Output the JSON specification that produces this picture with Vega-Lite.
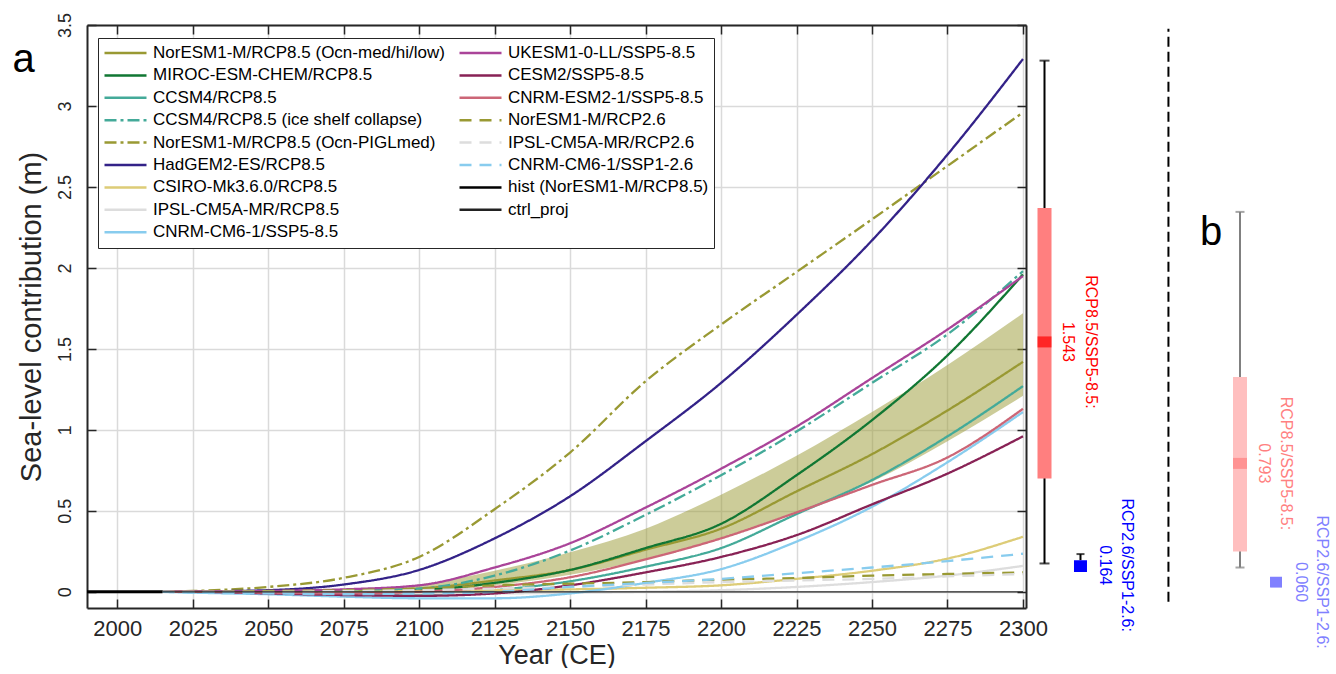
{
  "$schema": "https://vega.github.io/schema/vega-lite/v6.json",
  "background": "white",
  "padding": {"left": 12, "top": 12, "right": 0, "bottom": 0},
  "spacing": 0,
  "bounds": "flush",
  "config": {"font": "Liberation Sans", "view": {"stroke": null}},
  "datasets": {
    "series": [
      {"model": "NorESM1-M/RCP8.5 (Ocn-med/hi/low)", "year": 2015, "v": 0},
      {"model": "NorESM1-M/RCP8.5 (Ocn-med/hi/low)", "year": 2025, "v": 0},
      {"model": "NorESM1-M/RCP8.5 (Ocn-med/hi/low)", "year": 2050, "v": 0},
      {"model": "NorESM1-M/RCP8.5 (Ocn-med/hi/low)", "year": 2075, "v": 0.005},
      {"model": "NorESM1-M/RCP8.5 (Ocn-med/hi/low)", "year": 2100, "v": 0.02},
      {"model": "NorESM1-M/RCP8.5 (Ocn-med/hi/low)", "year": 2125, "v": 0.07},
      {"model": "NorESM1-M/RCP8.5 (Ocn-med/hi/low)", "year": 2150, "v": 0.135},
      {"model": "NorESM1-M/RCP8.5 (Ocn-med/hi/low)", "year": 2175, "v": 0.26},
      {"model": "NorESM1-M/RCP8.5 (Ocn-med/hi/low)", "year": 2200, "v": 0.39},
      {"model": "NorESM1-M/RCP8.5 (Ocn-med/hi/low)", "year": 2225, "v": 0.62},
      {"model": "NorESM1-M/RCP8.5 (Ocn-med/hi/low)", "year": 2250, "v": 0.85},
      {"model": "NorESM1-M/RCP8.5 (Ocn-med/hi/low)", "year": 2275, "v": 1.12},
      {"model": "NorESM1-M/RCP8.5 (Ocn-med/hi/low)", "year": 2300, "v": 1.42},
      {"model": "MIROC-ESM-CHEM/RCP8.5", "year": 2015, "v": 0},
      {"model": "MIROC-ESM-CHEM/RCP8.5", "year": 2025, "v": 0},
      {"model": "MIROC-ESM-CHEM/RCP8.5", "year": 2050, "v": 0},
      {"model": "MIROC-ESM-CHEM/RCP8.5", "year": 2075, "v": 0},
      {"model": "MIROC-ESM-CHEM/RCP8.5", "year": 2100, "v": 0.01},
      {"model": "MIROC-ESM-CHEM/RCP8.5", "year": 2125, "v": 0.055},
      {"model": "MIROC-ESM-CHEM/RCP8.5", "year": 2150, "v": 0.135},
      {"model": "MIROC-ESM-CHEM/RCP8.5", "year": 2175, "v": 0.27},
      {"model": "MIROC-ESM-CHEM/RCP8.5", "year": 2200, "v": 0.42},
      {"model": "MIROC-ESM-CHEM/RCP8.5", "year": 2225, "v": 0.72},
      {"model": "MIROC-ESM-CHEM/RCP8.5", "year": 2250, "v": 1.06},
      {"model": "MIROC-ESM-CHEM/RCP8.5", "year": 2275, "v": 1.46},
      {"model": "MIROC-ESM-CHEM/RCP8.5", "year": 2300, "v": 1.96},
      {"model": "CCSM4/RCP8.5", "year": 2015, "v": 0},
      {"model": "CCSM4/RCP8.5", "year": 2025, "v": 0},
      {"model": "CCSM4/RCP8.5", "year": 2050, "v": -0.005},
      {"model": "CCSM4/RCP8.5", "year": 2075, "v": -0.01},
      {"model": "CCSM4/RCP8.5", "year": 2100, "v": -0.015},
      {"model": "CCSM4/RCP8.5", "year": 2125, "v": 0.01},
      {"model": "CCSM4/RCP8.5", "year": 2150, "v": 0.065},
      {"model": "CCSM4/RCP8.5", "year": 2175, "v": 0.155},
      {"model": "CCSM4/RCP8.5", "year": 2200, "v": 0.27},
      {"model": "CCSM4/RCP8.5", "year": 2225, "v": 0.48},
      {"model": "CCSM4/RCP8.5", "year": 2250, "v": 0.69},
      {"model": "CCSM4/RCP8.5", "year": 2275, "v": 0.96},
      {"model": "CCSM4/RCP8.5", "year": 2300, "v": 1.27},
      {"model": "CCSM4/RCP8.5 (ice shelf collapse)", "year": 2015, "v": 0},
      {"model": "CCSM4/RCP8.5 (ice shelf collapse)", "year": 2025, "v": 0},
      {"model": "CCSM4/RCP8.5 (ice shelf collapse)", "year": 2050, "v": 0},
      {"model": "CCSM4/RCP8.5 (ice shelf collapse)", "year": 2075, "v": 0.005},
      {"model": "CCSM4/RCP8.5 (ice shelf collapse)", "year": 2100, "v": 0.02},
      {"model": "CCSM4/RCP8.5 (ice shelf collapse)", "year": 2125, "v": 0.1},
      {"model": "CCSM4/RCP8.5 (ice shelf collapse)", "year": 2150, "v": 0.255},
      {"model": "CCSM4/RCP8.5 (ice shelf collapse)", "year": 2175, "v": 0.475},
      {"model": "CCSM4/RCP8.5 (ice shelf collapse)", "year": 2200, "v": 0.72},
      {"model": "CCSM4/RCP8.5 (ice shelf collapse)", "year": 2225, "v": 0.99},
      {"model": "CCSM4/RCP8.5 (ice shelf collapse)", "year": 2250, "v": 1.29},
      {"model": "CCSM4/RCP8.5 (ice shelf collapse)", "year": 2275, "v": 1.59},
      {"model": "CCSM4/RCP8.5 (ice shelf collapse)", "year": 2300, "v": 1.98},
      {"model": "NorESM1-M/RCP8.5 (Ocn-PIGLmed)", "year": 2015, "v": 0},
      {"model": "NorESM1-M/RCP8.5 (Ocn-PIGLmed)", "year": 2025, "v": 0.005},
      {"model": "NorESM1-M/RCP8.5 (Ocn-PIGLmed)", "year": 2050, "v": 0.03},
      {"model": "NorESM1-M/RCP8.5 (Ocn-PIGLmed)", "year": 2075, "v": 0.086},
      {"model": "NorESM1-M/RCP8.5 (Ocn-PIGLmed)", "year": 2100, "v": 0.215},
      {"model": "NorESM1-M/RCP8.5 (Ocn-PIGLmed)", "year": 2125, "v": 0.51},
      {"model": "NorESM1-M/RCP8.5 (Ocn-PIGLmed)", "year": 2150, "v": 0.86},
      {"model": "NorESM1-M/RCP8.5 (Ocn-PIGLmed)", "year": 2175, "v": 1.3},
      {"model": "NorESM1-M/RCP8.5 (Ocn-PIGLmed)", "year": 2200, "v": 1.65},
      {"model": "NorESM1-M/RCP8.5 (Ocn-PIGLmed)", "year": 2225, "v": 1.975},
      {"model": "NorESM1-M/RCP8.5 (Ocn-PIGLmed)", "year": 2250, "v": 2.3},
      {"model": "NorESM1-M/RCP8.5 (Ocn-PIGLmed)", "year": 2275, "v": 2.63},
      {"model": "NorESM1-M/RCP8.5 (Ocn-PIGLmed)", "year": 2300, "v": 2.96},
      {"model": "HadGEM2-ES/RCP8.5", "year": 2015, "v": 0},
      {"model": "HadGEM2-ES/RCP8.5", "year": 2025, "v": 0.002},
      {"model": "HadGEM2-ES/RCP8.5", "year": 2050, "v": 0.01},
      {"model": "HadGEM2-ES/RCP8.5", "year": 2075, "v": 0.045},
      {"model": "HadGEM2-ES/RCP8.5", "year": 2100, "v": 0.135},
      {"model": "HadGEM2-ES/RCP8.5", "year": 2125, "v": 0.33},
      {"model": "HadGEM2-ES/RCP8.5", "year": 2150, "v": 0.59},
      {"model": "HadGEM2-ES/RCP8.5", "year": 2175, "v": 0.93},
      {"model": "HadGEM2-ES/RCP8.5", "year": 2200, "v": 1.29},
      {"model": "HadGEM2-ES/RCP8.5", "year": 2225, "v": 1.71},
      {"model": "HadGEM2-ES/RCP8.5", "year": 2250, "v": 2.17},
      {"model": "HadGEM2-ES/RCP8.5", "year": 2275, "v": 2.7},
      {"model": "HadGEM2-ES/RCP8.5", "year": 2300, "v": 3.29},
      {"model": "CSIRO-Mk3.6.0/RCP8.5", "year": 2015, "v": 0},
      {"model": "CSIRO-Mk3.6.0/RCP8.5", "year": 2025, "v": 0},
      {"model": "CSIRO-Mk3.6.0/RCP8.5", "year": 2050, "v": 0},
      {"model": "CSIRO-Mk3.6.0/RCP8.5", "year": 2075, "v": 0},
      {"model": "CSIRO-Mk3.6.0/RCP8.5", "year": 2100, "v": 0.005},
      {"model": "CSIRO-Mk3.6.0/RCP8.5", "year": 2125, "v": 0.01},
      {"model": "CSIRO-Mk3.6.0/RCP8.5", "year": 2150, "v": 0.015},
      {"model": "CSIRO-Mk3.6.0/RCP8.5", "year": 2175, "v": 0.025},
      {"model": "CSIRO-Mk3.6.0/RCP8.5", "year": 2200, "v": 0.04},
      {"model": "CSIRO-Mk3.6.0/RCP8.5", "year": 2225, "v": 0.08},
      {"model": "CSIRO-Mk3.6.0/RCP8.5", "year": 2250, "v": 0.13},
      {"model": "CSIRO-Mk3.6.0/RCP8.5", "year": 2275, "v": 0.205},
      {"model": "CSIRO-Mk3.6.0/RCP8.5", "year": 2300, "v": 0.34},
      {"model": "IPSL-CM5A-MR/RCP8.5", "year": 2015, "v": 0},
      {"model": "IPSL-CM5A-MR/RCP8.5", "year": 2025, "v": 0},
      {"model": "IPSL-CM5A-MR/RCP8.5", "year": 2050, "v": -0.005},
      {"model": "IPSL-CM5A-MR/RCP8.5", "year": 2075, "v": -0.01},
      {"model": "IPSL-CM5A-MR/RCP8.5", "year": 2100, "v": -0.01},
      {"model": "IPSL-CM5A-MR/RCP8.5", "year": 2125, "v": -0.01},
      {"model": "IPSL-CM5A-MR/RCP8.5", "year": 2150, "v": -0.005},
      {"model": "IPSL-CM5A-MR/RCP8.5", "year": 2175, "v": 0},
      {"model": "IPSL-CM5A-MR/RCP8.5", "year": 2200, "v": 0.01},
      {"model": "IPSL-CM5A-MR/RCP8.5", "year": 2225, "v": 0.03},
      {"model": "IPSL-CM5A-MR/RCP8.5", "year": 2250, "v": 0.06},
      {"model": "IPSL-CM5A-MR/RCP8.5", "year": 2275, "v": 0.1},
      {"model": "IPSL-CM5A-MR/RCP8.5", "year": 2300, "v": 0.16},
      {"model": "CNRM-CM6-1/SSP5-8.5", "year": 2015, "v": 0},
      {"model": "CNRM-CM6-1/SSP5-8.5", "year": 2025, "v": -0.005},
      {"model": "CNRM-CM6-1/SSP5-8.5", "year": 2050, "v": -0.015},
      {"model": "CNRM-CM6-1/SSP5-8.5", "year": 2075, "v": -0.03},
      {"model": "CNRM-CM6-1/SSP5-8.5", "year": 2100, "v": -0.04},
      {"model": "CNRM-CM6-1/SSP5-8.5", "year": 2125, "v": -0.04},
      {"model": "CNRM-CM6-1/SSP5-8.5", "year": 2150, "v": -0.01},
      {"model": "CNRM-CM6-1/SSP5-8.5", "year": 2175, "v": 0.055},
      {"model": "CNRM-CM6-1/SSP5-8.5", "year": 2200, "v": 0.14},
      {"model": "CNRM-CM6-1/SSP5-8.5", "year": 2225, "v": 0.31},
      {"model": "CNRM-CM6-1/SSP5-8.5", "year": 2250, "v": 0.525},
      {"model": "CNRM-CM6-1/SSP5-8.5", "year": 2275, "v": 0.8},
      {"model": "CNRM-CM6-1/SSP5-8.5", "year": 2300, "v": 1.11},
      {"model": "UKESM1-0-LL/SSP5-8.5", "year": 2015, "v": 0},
      {"model": "UKESM1-0-LL/SSP5-8.5", "year": 2025, "v": 0},
      {"model": "UKESM1-0-LL/SSP5-8.5", "year": 2050, "v": 0.005},
      {"model": "UKESM1-0-LL/SSP5-8.5", "year": 2075, "v": 0.015},
      {"model": "UKESM1-0-LL/SSP5-8.5", "year": 2100, "v": 0.04},
      {"model": "UKESM1-0-LL/SSP5-8.5", "year": 2125, "v": 0.15},
      {"model": "UKESM1-0-LL/SSP5-8.5", "year": 2150, "v": 0.3},
      {"model": "UKESM1-0-LL/SSP5-8.5", "year": 2175, "v": 0.52},
      {"model": "UKESM1-0-LL/SSP5-8.5", "year": 2200, "v": 0.76},
      {"model": "UKESM1-0-LL/SSP5-8.5", "year": 2225, "v": 1.02},
      {"model": "UKESM1-0-LL/SSP5-8.5", "year": 2250, "v": 1.32},
      {"model": "UKESM1-0-LL/SSP5-8.5", "year": 2275, "v": 1.62},
      {"model": "UKESM1-0-LL/SSP5-8.5", "year": 2300, "v": 1.95},
      {"model": "CESM2/SSP5-8.5", "year": 2015, "v": 0},
      {"model": "CESM2/SSP5-8.5", "year": 2025, "v": 0},
      {"model": "CESM2/SSP5-8.5", "year": 2050, "v": -0.01},
      {"model": "CESM2/SSP5-8.5", "year": 2075, "v": -0.02},
      {"model": "CESM2/SSP5-8.5", "year": 2100, "v": -0.025},
      {"model": "CESM2/SSP5-8.5", "year": 2125, "v": -0.01},
      {"model": "CESM2/SSP5-8.5", "year": 2150, "v": 0.04},
      {"model": "CESM2/SSP5-8.5", "year": 2175, "v": 0.12},
      {"model": "CESM2/SSP5-8.5", "year": 2200, "v": 0.215},
      {"model": "CESM2/SSP5-8.5", "year": 2225, "v": 0.35},
      {"model": "CESM2/SSP5-8.5", "year": 2250, "v": 0.54},
      {"model": "CESM2/SSP5-8.5", "year": 2275, "v": 0.73},
      {"model": "CESM2/SSP5-8.5", "year": 2300, "v": 0.96},
      {"model": "CNRM-ESM2-1/SSP5-8.5", "year": 2015, "v": 0},
      {"model": "CNRM-ESM2-1/SSP5-8.5", "year": 2025, "v": 0},
      {"model": "CNRM-ESM2-1/SSP5-8.5", "year": 2050, "v": -0.005},
      {"model": "CNRM-ESM2-1/SSP5-8.5", "year": 2075, "v": -0.01},
      {"model": "CNRM-ESM2-1/SSP5-8.5", "year": 2100, "v": 0},
      {"model": "CNRM-ESM2-1/SSP5-8.5", "year": 2125, "v": 0.03},
      {"model": "CNRM-ESM2-1/SSP5-8.5", "year": 2150, "v": 0.09},
      {"model": "CNRM-ESM2-1/SSP5-8.5", "year": 2175, "v": 0.2},
      {"model": "CNRM-ESM2-1/SSP5-8.5", "year": 2200, "v": 0.33},
      {"model": "CNRM-ESM2-1/SSP5-8.5", "year": 2225, "v": 0.49},
      {"model": "CNRM-ESM2-1/SSP5-8.5", "year": 2250, "v": 0.66},
      {"model": "CNRM-ESM2-1/SSP5-8.5", "year": 2275, "v": 0.83},
      {"model": "CNRM-ESM2-1/SSP5-8.5", "year": 2300, "v": 1.13},
      {"model": "NorESM1-M/RCP2.6", "year": 2015, "v": 0},
      {"model": "NorESM1-M/RCP2.6", "year": 2025, "v": 0},
      {"model": "NorESM1-M/RCP2.6", "year": 2050, "v": 0.005},
      {"model": "NorESM1-M/RCP2.6", "year": 2075, "v": 0.01},
      {"model": "NorESM1-M/RCP2.6", "year": 2100, "v": 0.02},
      {"model": "NorESM1-M/RCP2.6", "year": 2125, "v": 0.04},
      {"model": "NorESM1-M/RCP2.6", "year": 2150, "v": 0.05},
      {"model": "NorESM1-M/RCP2.6", "year": 2175, "v": 0.06},
      {"model": "NorESM1-M/RCP2.6", "year": 2200, "v": 0.075},
      {"model": "NorESM1-M/RCP2.6", "year": 2225, "v": 0.085},
      {"model": "NorESM1-M/RCP2.6", "year": 2250, "v": 0.1},
      {"model": "NorESM1-M/RCP2.6", "year": 2275, "v": 0.11},
      {"model": "NorESM1-M/RCP2.6", "year": 2300, "v": 0.12},
      {"model": "IPSL-CM5A-MR/RCP2.6", "year": 2015, "v": 0},
      {"model": "IPSL-CM5A-MR/RCP2.6", "year": 2025, "v": 0},
      {"model": "IPSL-CM5A-MR/RCP2.6", "year": 2050, "v": 0},
      {"model": "IPSL-CM5A-MR/RCP2.6", "year": 2075, "v": 0.005},
      {"model": "IPSL-CM5A-MR/RCP2.6", "year": 2100, "v": 0.01},
      {"model": "IPSL-CM5A-MR/RCP2.6", "year": 2125, "v": 0.02},
      {"model": "IPSL-CM5A-MR/RCP2.6", "year": 2150, "v": 0.03},
      {"model": "IPSL-CM5A-MR/RCP2.6", "year": 2175, "v": 0.045},
      {"model": "IPSL-CM5A-MR/RCP2.6", "year": 2200, "v": 0.06},
      {"model": "IPSL-CM5A-MR/RCP2.6", "year": 2225, "v": 0.07},
      {"model": "IPSL-CM5A-MR/RCP2.6", "year": 2250, "v": 0.08},
      {"model": "IPSL-CM5A-MR/RCP2.6", "year": 2275, "v": 0.095},
      {"model": "IPSL-CM5A-MR/RCP2.6", "year": 2300, "v": 0.11},
      {"model": "CNRM-CM6-1/SSP1-2.6", "year": 2015, "v": 0},
      {"model": "CNRM-CM6-1/SSP1-2.6", "year": 2025, "v": -0.005},
      {"model": "CNRM-CM6-1/SSP1-2.6", "year": 2050, "v": -0.01},
      {"model": "CNRM-CM6-1/SSP1-2.6", "year": 2075, "v": -0.015},
      {"model": "CNRM-CM6-1/SSP1-2.6", "year": 2100, "v": -0.01},
      {"model": "CNRM-CM6-1/SSP1-2.6", "year": 2125, "v": 0},
      {"model": "CNRM-CM6-1/SSP1-2.6", "year": 2150, "v": 0.03},
      {"model": "CNRM-CM6-1/SSP1-2.6", "year": 2175, "v": 0.055},
      {"model": "CNRM-CM6-1/SSP1-2.6", "year": 2200, "v": 0.08},
      {"model": "CNRM-CM6-1/SSP1-2.6", "year": 2225, "v": 0.115},
      {"model": "CNRM-CM6-1/SSP1-2.6", "year": 2250, "v": 0.15},
      {"model": "CNRM-CM6-1/SSP1-2.6", "year": 2275, "v": 0.19},
      {"model": "CNRM-CM6-1/SSP1-2.6", "year": 2300, "v": 0.235},
      {"model": "hist (NorESM1-M/RCP8.5)", "year": 1990, "v": 0},
      {"model": "hist (NorESM1-M/RCP8.5)", "year": 2015, "v": 0},
      {"model": "ctrl_proj", "year": 2015, "v": 0},
      {"model": "ctrl_proj", "year": 2300, "v": 0}
    ],
    "band": [
      {"year": 2015, "lo": 0, "hi": 0},
      {"year": 2025, "lo": 0, "hi": 0},
      {"year": 2050, "lo": 0, "hi": 0.003},
      {"year": 2075, "lo": 0, "hi": 0.012},
      {"year": 2100, "lo": 0.008, "hi": 0.045},
      {"year": 2125, "lo": 0.04, "hi": 0.13},
      {"year": 2150, "lo": 0.105, "hi": 0.245},
      {"year": 2175, "lo": 0.2, "hi": 0.39},
      {"year": 2200, "lo": 0.33, "hi": 0.6},
      {"year": 2225, "lo": 0.49, "hi": 0.84},
      {"year": 2250, "lo": 0.68, "hi": 1.11},
      {"year": 2275, "lo": 0.93, "hi": 1.4},
      {"year": 2300, "lo": 1.21, "hi": 1.72}
    ],
    "boxes": [
      {"key": "a85", "scen": "RCP8.5/SSP5-8.5", "lo": 0.175, "q1": 0.7, "med": 1.543, "q3": 2.37, "hi": 3.28},
      {"key": "a26", "scen": "RCP2.6/SSP1-2.6", "lo": 0.123, "q1": 0.123, "med": 0.164, "q3": 0.195, "hi": 0.233},
      {"key": "b85", "scen": "RCP8.5/SSP5-8.5", "lo": 0.15, "q1": 0.249, "med": 0.793, "q3": 1.327, "hi": 2.346},
      {"key": "b26", "scen": "RCP2.6/SSP1-2.6", "lo": 0.026, "q1": 0.026, "med": 0.06, "q3": 0.093, "hi": 0.093}
    ]
  },
  "hconcat": [
    {
      "width": 939,
      "height": 583,
      "layer": [
        {
          "data": {"name": "band"},
          "mark": {"type": "area", "color": "#999933", "opacity": 0.5, "interpolate": "monotone"},
          "encoding": {
            "x": {"field": "year", "type": "quantitative", "scale": {"domain": [1990, 2301], "nice": false, "zero": false},
              "axis": {"orient": "top", "values": [2000, 2025, 2050, 2075, 2100, 2125, 2150, 2175, 2200, 2225, 2250, 2275, 2300], "labels": false, "title": null, "grid": false, "tickSize": -9, "tickColor": "#262626", "tickWidth": 1.5, "domainColor": "#262626", "domainWidth": 2}},
            "y": {"field": "lo", "type": "quantitative", "scale": {"domain": [-0.1, 3.5], "nice": false, "zero": false},
              "axis": {"orient": "right", "values": [0, 0.5, 1, 1.5, 2, 2.5, 3, 3.5], "labels": false, "title": null, "grid": false, "tickSize": -9, "tickColor": "#262626", "tickWidth": 1.5, "domainColor": "#262626", "domainWidth": 2}},
            "y2": {"field": "hi"}
          }
        },
        {
          "data": {"name": "series"},
          "transform": [{"filter": "datum.model != 'hist (NorESM1-M/RCP8.5)' && datum.model != 'ctrl_proj'"}],
          "mark": {"type": "line", "strokeWidth": 2.3, "interpolate": "monotone"},
          "encoding": {
            "x": {"field": "year", "type": "quantitative",
              "axis": {"orient": "bottom", "values": [2000, 2025, 2050, 2075, 2100, 2125, 2150, 2175, 2200, 2225, 2250, 2275, 2300], "format": "d", "title": "Year (CE)", "grid": true, "gridColor": "#dadada", "gridWidth": 1.5, "tickSize": -9, "tickColor": "#262626", "tickWidth": 1.5, "domainColor": "#262626", "domainWidth": 2, "labelFontSize": 22, "labelColor": "#262626", "labelPadding": 19, "labelFlush": false, "labelOverlap": false, "titleFontSize": 27, "titleFontWeight": "normal", "titleColor": "#262626", "titlePadding": 3}},
            "y": {"field": "v", "type": "quantitative",
              "axis": {"orient": "left", "values": [0, 0.5, 1, 1.5, 2, 2.5, 3, 3.5], "format": "~g", "title": "Sea-level contribution (m)", "grid": true, "gridColor": "#dadada", "gridWidth": 1.5, "tickSize": -9, "tickColor": "#262626", "tickWidth": 1.5, "domainColor": "#262626", "domainWidth": 2, "labelAngle": -90, "labelFont": "Liberation Sans", "labelFontSize": 18, "labelColor": "#262626", "labelPadding": 22, "labelFlush": false, "labelOverlap": false, "titleFontSize": 29, "titleFontWeight": "normal", "titleColor": "#262626", "titlePadding": 10}},
            "color": {"field": "model", "type": "nominal",
              "scale": {"domain": ["NorESM1-M/RCP8.5 (Ocn-med/hi/low)", "MIROC-ESM-CHEM/RCP8.5", "CCSM4/RCP8.5", "CCSM4/RCP8.5 (ice shelf collapse)", "NorESM1-M/RCP8.5 (Ocn-PIGLmed)", "HadGEM2-ES/RCP8.5", "CSIRO-Mk3.6.0/RCP8.5", "IPSL-CM5A-MR/RCP8.5", "CNRM-CM6-1/SSP5-8.5", "UKESM1-0-LL/SSP5-8.5", "CESM2/SSP5-8.5", "CNRM-ESM2-1/SSP5-8.5", "NorESM1-M/RCP2.6", "IPSL-CM5A-MR/RCP2.6", "CNRM-CM6-1/SSP1-2.6", "hist (NorESM1-M/RCP8.5)", "ctrl_proj"],
                "range": ["#999933", "#117733", "#44AA99", "#44AA99", "#999933", "#332288", "#DDCC77", "#DDDDDD", "#88CCEE", "#AA4499", "#882255", "#CC6677", "#999933", "#DDDDDD", "#88CCEE", "#000000", "#222222"]},
              "legend": {"orient": "none", "legendX": 11, "legendY": 13, "direction": "vertical", "columns": 2, "title": null, "symbolType": "stroke", "symbolSize": 1764, "symbolStrokeWidth": 2.5, "labelFontSize": 17, "labelFont": "Liberation Sans", "labelColor": "#000000", "labelLimit": 500, "clipHeight": 20, "rowPadding": 2.4, "columnPadding": 13, "labelOffset": 5, "symbolOffset": 0, "padding": 5, "strokeColor": "#262626", "fillColor": "white"}},
            "strokeDash": {"field": "model", "type": "nominal",
              "scale": {"domain": ["NorESM1-M/RCP8.5 (Ocn-med/hi/low)", "MIROC-ESM-CHEM/RCP8.5", "CCSM4/RCP8.5", "CCSM4/RCP8.5 (ice shelf collapse)", "NorESM1-M/RCP8.5 (Ocn-PIGLmed)", "HadGEM2-ES/RCP8.5", "CSIRO-Mk3.6.0/RCP8.5", "IPSL-CM5A-MR/RCP8.5", "CNRM-CM6-1/SSP5-8.5", "UKESM1-0-LL/SSP5-8.5", "CESM2/SSP5-8.5", "CNRM-ESM2-1/SSP5-8.5", "NorESM1-M/RCP2.6", "IPSL-CM5A-MR/RCP2.6", "CNRM-CM6-1/SSP1-2.6", "hist (NorESM1-M/RCP8.5)", "ctrl_proj"],
                "range": [[1, 0], [1, 0], [1, 0], [12, 4, 3, 4], [12, 4, 3, 4], [1, 0], [1, 0], [1, 0], [1, 0], [1, 0], [1, 0], [1, 0], [12, 8], [12, 8], [12, 8], [1, 0], [1, 0]]},
              "legend": {"orient": "none", "legendX": 11, "legendY": 13, "direction": "vertical", "columns": 2, "title": null, "symbolType": "stroke", "symbolSize": 1764, "symbolStrokeWidth": 2.5, "labelFontSize": 17, "labelFont": "Liberation Sans", "labelColor": "#000000", "labelLimit": 500, "clipHeight": 20, "rowPadding": 2.4, "columnPadding": 13, "labelOffset": 5, "symbolOffset": 0, "padding": 5, "strokeColor": "#262626", "fillColor": "white"}}
          }
        },
        {
          "data": {"name": "series"},
          "transform": [{"filter": "datum.model == 'ctrl_proj'"}],
          "mark": {"type": "line", "strokeWidth": 1.2},
          "encoding": {
            "x": {"field": "year", "type": "quantitative", "axis": null},
            "y": {"field": "v", "type": "quantitative", "axis": null},
            "color": {"field": "model", "type": "nominal"},
            "strokeDash": {"field": "model", "type": "nominal"}
          }
        },
        {
          "data": {"name": "series"},
          "transform": [{"filter": "datum.model == 'hist (NorESM1-M/RCP8.5)'"}],
          "mark": {"type": "line", "strokeWidth": 3},
          "encoding": {
            "x": {"field": "year", "type": "quantitative", "axis": null},
            "y": {"field": "v", "type": "quantitative", "axis": null},
            "color": {"field": "model", "type": "nominal"},
            "strokeDash": {"field": "model", "type": "nominal"}
          }
        },
        {
          "data": {"values": [{}]},
          "mark": {"type": "text", "text": "a", "fontSize": 40, "align": "center", "baseline": "alphabetic", "color": "#000000"},
          "encoding": {
            "x": {"datum": 1969, "type": "quantitative", "axis": null},
            "y": {"datum": 3.21, "type": "quantitative", "axis": null}
          }
        }
      ],
      "resolve": {"axis": {"x": "independent", "y": "independent"}}
    },
    {
      "width": 311,
      "height": 583,
      "data": {"name": "boxes"},
      "transform": [
        {"calculate": "datum.scen + ':'", "as": "l1"},
        {"calculate": "format(datum.med, '.3f')", "as": "l2"}
      ],
      "layer": [
        {
          "transform": [{"filter": "datum.key == 'a85'"}],
          "mark": {"type": "rule", "color": "#000000", "strokeWidth": 2, "strokeDash": [10, 5]},
          "encoding": {
            "x": {"datum": 45.8, "type": "quantitative", "scale": {"domain": [0, 100], "nice": false, "zero": false}, "axis": null},
            "y": {"datum": -0.062, "type": "quantitative", "scale": {"domain": [-0.1, 3.5], "nice": false, "zero": false}, "axis": null},
            "y2": {"datum": 3.477}
          }
        },
        {
          "transform": [{"filter": "datum.key == 'a85'"}],
          "mark": {"type": "text", "text": "b", "fontSize": 40, "align": "center", "baseline": "alphabetic", "color": "#000000"},
          "encoding": {
            "x": {"datum": 59.5, "type": "quantitative", "axis": null},
            "y": {"datum": 2.142, "type": "quantitative", "axis": null}
          }
        },
        {
          "transform": [{"filter": "datum.key == 'a85'"}],
          "mark": {"type": "rule", "color": "#000000", "strokeWidth": 2},
          "encoding": {
            "x": {"datum": 5.95, "type": "quantitative", "axis": null},
            "y": {"field": "lo", "type": "quantitative", "axis": null},
            "y2": {"field": "hi"}
          }
        },
        {
          "transform": [{"filter": "datum.key == 'a85'"}, {"fold": ["lo", "hi"], "as": ["end", "val"]}],
          "mark": {"type": "tick", "orient": "horizontal", "size": 10, "thickness": 2, "color": "#000000"},
          "encoding": {
            "x": {"datum": 5.95, "type": "quantitative", "axis": null},
            "y": {"field": "val", "type": "quantitative", "axis": null}
          }
        },
        {
          "transform": [{"filter": "datum.key == 'a85'"}],
          "mark": {"type": "rect", "color": "#FF7F7F"},
          "encoding": {
            "x": {"datum": 3.7, "type": "quantitative", "axis": null},
            "x2": {"datum": 8.2},
            "y": {"field": "q1", "type": "quantitative", "axis": null},
            "y2": {"field": "q3"}
          }
        },
        {
          "transform": [{"filter": "datum.key == 'a85'"}],
          "mark": {"type": "tick", "orient": "horizontal", "size": 14, "thickness": 11, "color": "#FF0000"},
          "encoding": {
            "x": {"datum": 5.95, "type": "quantitative", "axis": null},
            "y": {"field": "med", "type": "quantitative", "axis": null}
          }
        },
        {
          "transform": [{"filter": "datum.key == 'a85'"}],
          "mark": {"type": "text", "angle": 90, "align": "center", "baseline": "middle", "fontSize": 16, "color": "#FF0000"},
          "encoding": {
            "x": {"datum": 20.9, "type": "quantitative", "axis": null},
            "y": {"field": "med", "type": "quantitative", "axis": null},
            "text": {"field": "l1"}
          }
        },
        {
          "transform": [{"filter": "datum.key == 'a85'"}],
          "mark": {"type": "text", "angle": 90, "align": "center", "baseline": "middle", "fontSize": 16, "color": "#FF0000"},
          "encoding": {
            "x": {"datum": 13.5, "type": "quantitative", "axis": null},
            "y": {"field": "med", "type": "quantitative", "axis": null},
            "text": {"field": "l2"}
          }
        },
        {
          "transform": [{"filter": "datum.key == 'a26'"}],
          "mark": {"type": "rule", "color": "#000000", "strokeWidth": 2},
          "encoding": {
            "x": {"datum": 17.52, "type": "quantitative", "axis": null},
            "y": {"field": "q3", "type": "quantitative", "axis": null},
            "y2": {"field": "hi"}
          }
        },
        {
          "transform": [{"filter": "datum.key == 'a26'"}],
          "mark": {"type": "tick", "orient": "horizontal", "size": 8, "thickness": 2, "color": "#000000"},
          "encoding": {
            "x": {"datum": 17.52, "type": "quantitative", "axis": null},
            "y": {"field": "hi", "type": "quantitative", "axis": null}
          }
        },
        {
          "transform": [{"filter": "datum.key == 'a26'"}],
          "mark": {"type": "rect", "color": "#0000FF"},
          "encoding": {
            "x": {"datum": 15.43, "type": "quantitative", "axis": null},
            "x2": {"datum": 19.61},
            "y": {"field": "q1", "type": "quantitative", "axis": null},
            "y2": {"field": "q3"}
          }
        },
        {
          "transform": [{"filter": "datum.key == 'a26'"}],
          "mark": {"type": "text", "angle": 90, "align": "center", "baseline": "middle", "fontSize": 16, "color": "#0000FF"},
          "encoding": {
            "x": {"datum": 32.6, "type": "quantitative", "axis": null},
            "y": {"field": "med", "type": "quantitative", "axis": null},
            "text": {"field": "l1"}
          }
        },
        {
          "transform": [{"filter": "datum.key == 'a26'"}],
          "mark": {"type": "text", "angle": 90, "align": "center", "baseline": "middle", "fontSize": 16, "color": "#0000FF"},
          "encoding": {
            "x": {"datum": 25.4, "type": "quantitative", "axis": null},
            "y": {"field": "med", "type": "quantitative", "axis": null},
            "text": {"field": "l2"}
          }
        },
        {
          "transform": [{"filter": "datum.key == 'b85'"}],
          "mark": {"type": "rule", "color": "#808080", "strokeWidth": 2},
          "encoding": {
            "x": {"datum": 68.81, "type": "quantitative", "axis": null},
            "y": {"field": "lo", "type": "quantitative", "axis": null},
            "y2": {"field": "hi"}
          }
        },
        {
          "transform": [{"filter": "datum.key == 'b85'"}, {"fold": ["lo", "hi"], "as": ["end", "val"]}],
          "mark": {"type": "tick", "orient": "horizontal", "size": 9, "thickness": 2, "color": "#808080"},
          "encoding": {
            "x": {"datum": 68.81, "type": "quantitative", "axis": null},
            "y": {"field": "val", "type": "quantitative", "axis": null}
          }
        },
        {
          "transform": [{"filter": "datum.key == 'b85'"}],
          "mark": {"type": "rect", "color": "#FFBFBF"},
          "encoding": {
            "x": {"datum": 66.56, "type": "quantitative", "axis": null},
            "x2": {"datum": 71.06},
            "y": {"field": "q1", "type": "quantitative", "axis": null},
            "y2": {"field": "q3"}
          }
        },
        {
          "transform": [{"filter": "datum.key == 'b85'"}],
          "mark": {"type": "tick", "orient": "horizontal", "size": 14, "thickness": 11, "color": "#FF8080"},
          "encoding": {
            "x": {"datum": 68.81, "type": "quantitative", "axis": null},
            "y": {"field": "med", "type": "quantitative", "axis": null}
          }
        },
        {
          "transform": [{"filter": "datum.key == 'b85'"}],
          "mark": {"type": "text", "angle": 90, "align": "center", "baseline": "middle", "fontSize": 16, "color": "#FF8080"},
          "encoding": {
            "x": {"datum": 83.6, "type": "quantitative", "axis": null},
            "y": {"field": "med", "type": "quantitative", "axis": null},
            "text": {"field": "l1"}
          }
        },
        {
          "transform": [{"filter": "datum.key == 'b85'"}],
          "mark": {"type": "text", "angle": 90, "align": "center", "baseline": "middle", "fontSize": 16, "color": "#FF8080"},
          "encoding": {
            "x": {"datum": 76.5, "type": "quantitative", "axis": null},
            "y": {"field": "med", "type": "quantitative", "axis": null},
            "text": {"field": "l2"}
          }
        },
        {
          "transform": [{"filter": "datum.key == 'b26'"}],
          "mark": {"type": "rect", "color": "#8080FF"},
          "encoding": {
            "x": {"datum": 78.46, "type": "quantitative", "axis": null},
            "x2": {"datum": 82.32},
            "y": {"field": "q1", "type": "quantitative", "axis": null},
            "y2": {"field": "q3"}
          }
        },
        {
          "transform": [{"filter": "datum.key == 'b26'"}],
          "mark": {"type": "text", "angle": 90, "align": "center", "baseline": "middle", "fontSize": 16, "color": "#8080FF"},
          "encoding": {
            "x": {"datum": 95.2, "type": "quantitative", "axis": null},
            "y": {"field": "med", "type": "quantitative", "axis": null},
            "text": {"field": "l1"}
          }
        },
        {
          "transform": [{"filter": "datum.key == 'b26'"}],
          "mark": {"type": "text", "angle": 90, "align": "center", "baseline": "middle", "fontSize": 16, "color": "#8080FF"},
          "encoding": {
            "x": {"datum": 88.4, "type": "quantitative", "axis": null},
            "y": {"field": "med", "type": "quantitative", "axis": null},
            "text": {"field": "l2"}
          }
        }
      ]
    }
  ]
}
